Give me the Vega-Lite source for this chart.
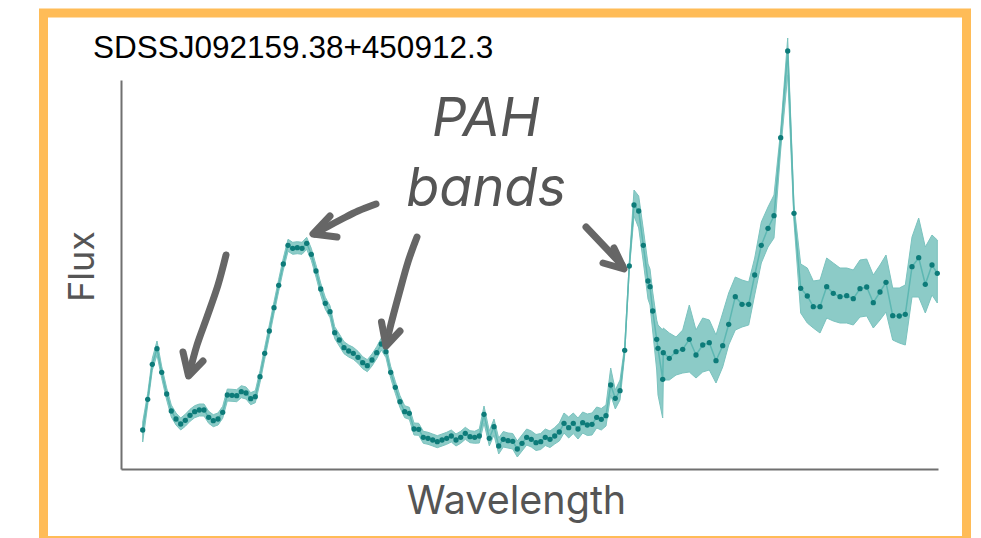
{
  "$schema": "https://vega.github.io/schema/vega-lite/v6.json",
  "width": 923,
  "height": 527.5,
  "autosize": {"type": "none"},
  "padding": {"left": 43.5, "top": 13, "right": 14.5, "bottom": 0},
  "background": "white",
  "config": {"view": {"stroke": "#FFBC57", "strokeWidth": 9, "fill": "white"}},
  "title": {
    "text": "SDSSJ092159.38+450912.3",
    "anchor": "start", "frame": "group", "orient": "top", "offset": 0,
    "dx": 49.5, "dy": 76, "baseline": "alphabetic",
    "font": "Liberation Sans", "fontSize": 31.5, "fontWeight": "normal", "color": "#000000"
  },
  "datasets": {
    "spec": [
      {"wl":142.7,"flux":39,"lo":27,"hi":47},
      {"wl":147.7,"flux":69.7,"lo":63.7,"hi":75.7},
      {"wl":152.3,"flux":104.7,"lo":98.7,"hi":110.7},
      {"wl":157,"flux":120.3,"lo":114,"hi":128},
      {"wl":161.7,"flux":96.7,"lo":90.7,"hi":102.7},
      {"wl":166.7,"flux":75,"lo":69,"hi":81},
      {"wl":171.3,"flux":58,"lo":52,"hi":64},
      {"wl":176,"flux":50,"lo":44,"hi":56},
      {"wl":180.7,"flux":45,"lo":39,"hi":51},
      {"wl":185.3,"flux":48.7,"lo":42.7,"hi":54.7},
      {"wl":190,"flux":53.7,"lo":47.7,"hi":59.7},
      {"wl":194.7,"flux":57.3,"lo":51.3,"hi":63.3},
      {"wl":199.3,"flux":59,"lo":53,"hi":65},
      {"wl":204,"flux":59,"lo":53,"hi":65},
      {"wl":208.7,"flux":51.7,"lo":45.7,"hi":57.7},
      {"wl":213.3,"flux":48.3,"lo":42.3,"hi":54.3},
      {"wl":218,"flux":50,"lo":44,"hi":56},
      {"wl":222.7,"flux":56.7,"lo":50.7,"hi":62.7},
      {"wl":227.3,"flux":74,"lo":68,"hi":80},
      {"wl":232,"flux":73.7,"lo":67.7,"hi":79.7},
      {"wl":236.7,"flux":73.3,"lo":67.3,"hi":79.3},
      {"wl":241.3,"flux":77.3,"lo":71.3,"hi":83.3},
      {"wl":246,"flux":76,"lo":70,"hi":82},
      {"wl":250.7,"flux":70.3,"lo":64.3,"hi":76.3},
      {"wl":255.3,"flux":72.3,"lo":66.3,"hi":78.3},
      {"wl":260,"flux":92.3,"lo":86.3,"hi":98.3},
      {"wl":264.7,"flux":115.7,"lo":109.7,"hi":121.7},
      {"wl":269.3,"flux":138,"lo":132,"hi":144},
      {"wl":274,"flux":161.3,"lo":155.3,"hi":167.3},
      {"wl":278.7,"flux":183.7,"lo":177.7,"hi":189.7},
      {"wl":283.3,"flux":205,"lo":199,"hi":211},
      {"wl":288,"flux":223.7,"lo":217.7,"hi":229.7},
      {"wl":292.7,"flux":220.7,"lo":214.7,"hi":226.7},
      {"wl":297.3,"flux":221.3,"lo":215.3,"hi":227.3},
      {"wl":302,"flux":220.7,"lo":214.7,"hi":226.7},
      {"wl":306.7,"flux":225.7,"lo":219.7,"hi":231.7},
      {"wl":311.3,"flux":214.7,"lo":208.7,"hi":220.7},
      {"wl":316,"flux":198,"lo":192,"hi":204},
      {"wl":320.7,"flux":180,"lo":174,"hi":186},
      {"wl":325.3,"flux":165.7,"lo":159.7,"hi":171.7},
      {"wl":330,"flux":157.3,"lo":151.3,"hi":163.3},
      {"wl":334.7,"flux":136.3,"lo":130.3,"hi":142.3},
      {"wl":339.3,"flux":129,"lo":123,"hi":135},
      {"wl":344,"flux":121.3,"lo":115.3,"hi":127.3},
      {"wl":348.7,"flux":118,"lo":112,"hi":124},
      {"wl":353.3,"flux":115.7,"lo":109.7,"hi":121.7},
      {"wl":358,"flux":111.7,"lo":105.7,"hi":117.7},
      {"wl":362.7,"flux":106.3,"lo":100.3,"hi":112.3},
      {"wl":367.3,"flux":103.3,"lo":97.3,"hi":109.3},
      {"wl":372,"flux":109,"lo":103,"hi":115},
      {"wl":376.7,"flux":116.3,"lo":110.3,"hi":122.3},
      {"wl":381.3,"flux":125,"lo":119,"hi":131},
      {"wl":386,"flux":117.3,"lo":111.3,"hi":123.3},
      {"wl":390.7,"flux":96.7,"lo":90.7,"hi":102.7},
      {"wl":395.3,"flux":81.7,"lo":75.7,"hi":87.7},
      {"wl":400,"flux":67.3,"lo":61.3,"hi":73.3},
      {"wl":404.7,"flux":57.3,"lo":51.3,"hi":63.3},
      {"wl":409.3,"flux":55.7,"lo":49.7,"hi":61.7},
      {"wl":414,"flux":40,"lo":34,"hi":46},
      {"wl":418.7,"flux":39.7,"lo":33.7,"hi":45.7},
      {"wl":423.3,"flux":31.7,"lo":25.7,"hi":37.7},
      {"wl":428,"flux":30.7,"lo":24.7,"hi":36.7},
      {"wl":432.7,"flux":29,"lo":23,"hi":35},
      {"wl":437.3,"flux":27.3,"lo":21.3,"hi":33.3},
      {"wl":442,"flux":29,"lo":23,"hi":35},
      {"wl":446.7,"flux":30.7,"lo":24.7,"hi":36.7},
      {"wl":451.3,"flux":33,"lo":27,"hi":39},
      {"wl":456,"flux":29,"lo":23,"hi":35},
      {"wl":460.7,"flux":31.7,"lo":25.7,"hi":37.7},
      {"wl":465.3,"flux":35.7,"lo":29.7,"hi":41.7},
      {"wl":470,"flux":32.3,"lo":26.3,"hi":38.3},
      {"wl":474.7,"flux":31.7,"lo":25.7,"hi":37.7},
      {"wl":479.3,"flux":33,"lo":26,"hi":40},
      {"wl":484,"flux":54.7,"lo":46,"hi":63},
      {"wl":489.3,"flux":30.7,"lo":23,"hi":38},
      {"wl":494,"flux":42.3,"lo":34,"hi":50},
      {"wl":498.7,"flux":23,"lo":15,"hi":31},
      {"wl":503.3,"flux":29.7,"lo":22,"hi":37.5},
      {"wl":508,"flux":28.3,"lo":21,"hi":36},
      {"wl":512.7,"flux":27.7,"lo":20,"hi":35.5},
      {"wl":517.3,"flux":20,"lo":12,"hi":28},
      {"wl":522,"flux":25.7,"lo":18,"hi":34},
      {"wl":526.7,"flux":31.7,"lo":24,"hi":40},
      {"wl":531.3,"flux":29.7,"lo":22,"hi":38},
      {"wl":536,"flux":26.3,"lo":18.5,"hi":34.5},
      {"wl":540.7,"flux":27.3,"lo":19.5,"hi":35.5},
      {"wl":545.3,"flux":31.7,"lo":23.5,"hi":40},
      {"wl":550,"flux":29.7,"lo":21.5,"hi":38},
      {"wl":554.7,"flux":33,"lo":25,"hi":41.5},
      {"wl":559.3,"flux":37,"lo":28,"hi":46},
      {"wl":564,"flux":45.7,"lo":36,"hi":56},
      {"wl":568.7,"flux":41.3,"lo":31,"hi":52},
      {"wl":573.3,"flux":45.7,"lo":35.5,"hi":56},
      {"wl":578,"flux":40,"lo":30,"hi":51},
      {"wl":582.7,"flux":46.3,"lo":36,"hi":57},
      {"wl":587.3,"flux":44,"lo":33.5,"hi":55},
      {"wl":592,"flux":44.7,"lo":34,"hi":56},
      {"wl":596.7,"flux":51.7,"lo":41,"hi":62},
      {"wl":601.3,"flux":49.7,"lo":39,"hi":60.5},
      {"wl":606,"flux":53.3,"lo":43,"hi":64},
      {"wl":610.7,"flux":84,"lo":74,"hi":101},
      {"wl":615.3,"flux":70.7,"lo":60,"hi":79},
      {"wl":620,"flux":78.3,"lo":69,"hi":89},
      {"wl":624.7,"flux":118.7,"lo":114,"hi":123},
      {"wl":629.3,"flux":203,"lo":199,"hi":207},
      {"wl":634,"flux":264,"lo":253,"hi":279},
      {"wl":638.7,"flux":258,"lo":241,"hi":273},
      {"wl":643.3,"flux":223.7,"lo":207,"hi":240},
      {"wl":648,"flux":188,"lo":170,"hi":205},
      {"wl":650,"flux":182.3,"lo":164,"hi":200},
      {"wl":652.7,"flux":158,"lo":138,"hi":177},
      {"wl":656.7,"flux":129.7,"lo":99,"hi":149},
      {"wl":658,"flux":120.7,"lo":74,"hi":144},
      {"wl":662.7,"flux":89.7,"lo":51,"hi":139},
      {"wl":663.3,"flux":116.3,"lo":89,"hi":141},
      {"wl":669.3,"flux":110.7,"lo":89,"hi":136},
      {"wl":676,"flux":117.3,"lo":94,"hi":132},
      {"wl":682.7,"flux":119.7,"lo":96,"hi":139},
      {"wl":689.3,"flux":129.7,"lo":97,"hi":164},
      {"wl":696,"flux":114,"lo":91,"hi":139},
      {"wl":702.7,"flux":124,"lo":97,"hi":151},
      {"wl":709.3,"flux":126.3,"lo":99,"hi":149},
      {"wl":716,"flux":108.3,"lo":86,"hi":134},
      {"wl":722.7,"flux":123.3,"lo":102,"hi":156},
      {"wl":728.7,"flux":144.7,"lo":124,"hi":176},
      {"wl":735.3,"flux":172.3,"lo":139,"hi":192},
      {"wl":742,"flux":164.7,"lo":142,"hi":189},
      {"wl":748.7,"flux":164.7,"lo":144,"hi":187},
      {"wl":754.7,"flux":194,"lo":174,"hi":211},
      {"wl":761.3,"flux":223.7,"lo":206,"hi":247},
      {"wl":768,"flux":240.7,"lo":222,"hi":262},
      {"wl":774,"flux":253.3,"lo":231,"hi":274},
      {"wl":780.7,"flux":331.3,"lo":319,"hi":339},
      {"wl":787.7,"flux":418,"lo":394,"hi":431},
      {"wl":794,"flux":255.7,"lo":247,"hi":264},
      {"wl":800.7,"flux":180.7,"lo":156,"hi":205},
      {"wl":807.3,"flux":173,"lo":146,"hi":201},
      {"wl":813.3,"flux":162.3,"lo":141,"hi":188},
      {"wl":820,"flux":162.3,"lo":136,"hi":189},
      {"wl":826.7,"flux":182.3,"lo":151,"hi":211},
      {"wl":833.3,"flux":175.7,"lo":148,"hi":206},
      {"wl":840,"flux":172.3,"lo":146,"hi":201},
      {"wl":846.7,"flux":173.3,"lo":146,"hi":201},
      {"wl":853.3,"flux":170.3,"lo":144,"hi":199},
      {"wl":860,"flux":180.3,"lo":152,"hi":209},
      {"wl":866.7,"flux":182,"lo":153,"hi":210},
      {"wl":873.3,"flux":166.3,"lo":141,"hi":194},
      {"wl":880,"flux":177,"lo":149,"hi":204},
      {"wl":886,"flux":186.7,"lo":157,"hi":214},
      {"wl":892.7,"flux":153.3,"lo":129,"hi":181},
      {"wl":899.3,"flux":153,"lo":126,"hi":181},
      {"wl":905.3,"flux":154.7,"lo":124,"hi":184},
      {"wl":912,"flux":202.3,"lo":172,"hi":232},
      {"wl":918.7,"flux":211.3,"lo":172,"hi":251},
      {"wl":925.3,"flux":184.7,"lo":156,"hi":222},
      {"wl":932,"flux":204,"lo":174,"hi":234},
      {"wl":937.3,"flux":195.7,"lo":166,"hi":229}
    ],
    "shafts": [
      {"id":"a1","o":0,"wl":226,"flux":214},
      {"id":"a1","o":1,"wl":218,"flux":184},
      {"id":"a1","o":2,"wl":207,"flux":152},
      {"id":"a1","o":3,"wl":197,"flux":124},
      {"id":"a1","o":4,"wl":189.5,"flux":96},
      {"id":"a2","o":0,"wl":376,"flux":265},
      {"id":"a2","o":1,"wl":358,"flux":258},
      {"id":"a2","o":2,"wl":342,"flux":250},
      {"id":"a2","o":3,"wl":327,"flux":242},
      {"id":"a2","o":4,"wl":315,"flux":235},
      {"id":"a3","o":0,"wl":417,"flux":232},
      {"id":"a3","o":1,"wl":408,"flux":207},
      {"id":"a3","o":2,"wl":399,"flux":175},
      {"id":"a3","o":3,"wl":391,"flux":145},
      {"id":"a3","o":4,"wl":386,"flux":124},
      {"id":"a4","o":0,"wl":586,"flux":242},
      {"id":"a4","o":1,"wl":604,"flux":223},
      {"id":"a4","o":2,"wl":622,"flux":204}
    ],
    "heads": [
      {"id":"h1","o":0,"wl":183,"flux":117},
      {"id":"h1","o":1,"wl":188.5,"flux":93},
      {"id":"h1","o":2,"wl":203,"flux":108},
      {"id":"h2","o":0,"wl":330,"flux":253},
      {"id":"h2","o":1,"wl":313,"flux":235},
      {"id":"h2","o":2,"wl":337,"flux":232},
      {"id":"h3","o":0,"wl":381.5,"flux":147},
      {"id":"h3","o":1,"wl":386,"flux":123},
      {"id":"h3","o":2,"wl":400,"flux":138},
      {"id":"h4","o":0,"wl":614,"flux":221},
      {"id":"h4","o":1,"wl":624,"flux":200},
      {"id":"h4","o":2,"wl":603,"flux":206}
    ],
    "labels": [
      {"wl":486,"flux":333,"t":"PAH"},
      {"wl":486,"flux":263,"t":"bands"}
    ]
  },
  "layer": [
    {
      "data": {"name": "spec"},
      "mark": {"type": "area", "color": "#86C9C5", "opacity": 0.95, "stroke": "#74C0BB", "strokeWidth": 1},
      "encoding": {
        "x": {
          "field": "wl", "type": "quantitative",
          "scale": {"domain": [121, 938], "range": [77.5, 894.5], "nice": false, "zero": false},
          "axis": {
            "title": "Wavelength", "labels": false, "ticks": false, "grid": false,
            "domainColor": "#707070", "domainWidth": 2, "offset": -71.5,
            "titleFont": "Inter", "titleFontSize": 39.5, "titleFontWeight": "normal", "titleColor": "#555555",
            "titleX": 472.5, "titleY": 44, "titleBaseline": "alphabetic", "titleAlign": "center"
          }
        },
        "y": {
          "field": "lo", "type": "quantitative",
          "scale": {"domain": [0, 389], "range": [456, 67], "nice": false, "zero": false},
          "axis": {
            "title": "Flux", "labels": false, "ticks": false, "grid": false,
            "domainColor": "#707070", "domainWidth": 2, "offset": -77.5,
            "titleFont": "Inter", "titleFontSize": 36, "titleFontWeight": "normal", "titleColor": "#555555",
            "titleX": -28, "titleY": 253, "titleAngle": -90, "titleBaseline": "alphabetic", "titleAlign": "center"
          }
        },
        "y2": {"field": "hi"}
      }
    },
    {
      "data": {"name": "spec"},
      "mark": {"type": "line", "color": "#5DB7B2", "strokeWidth": 1.5},
      "encoding": {
        "x": {"field": "wl", "type": "quantitative"},
        "y": {"field": "flux", "type": "quantitative"}
      }
    },
    {
      "data": {"name": "spec"},
      "mark": {"type": "point", "filled": true, "size": 28, "color": "#0D7B79", "opacity": 1},
      "encoding": {
        "x": {"field": "wl", "type": "quantitative"},
        "y": {"field": "flux", "type": "quantitative"}
      }
    },
    {
      "data": {"name": "shafts"},
      "mark": {"type": "line", "color": "#666666", "strokeWidth": 7, "strokeCap": "round", "strokeJoin": "round", "interpolate": "cardinal"},
      "encoding": {
        "x": {"field": "wl", "type": "quantitative"},
        "y": {"field": "flux", "type": "quantitative"},
        "detail": {"field": "id"},
        "order": {"field": "o", "type": "quantitative"}
      }
    },
    {
      "data": {"name": "heads"},
      "mark": {"type": "line", "color": "#666666", "strokeWidth": 7, "strokeCap": "round", "strokeJoin": "round"},
      "encoding": {
        "x": {"field": "wl", "type": "quantitative"},
        "y": {"field": "flux", "type": "quantitative"},
        "detail": {"field": "id"},
        "order": {"field": "o", "type": "quantitative"}
      }
    },
    {
      "data": {"name": "labels"},
      "mark": {"type": "text", "font": "Inter", "fontSize": 54, "fontStyle": "italic", "color": "#555555", "align": "center", "baseline": "alphabetic"},
      "encoding": {
        "x": {"field": "wl", "type": "quantitative"},
        "y": {"field": "flux", "type": "quantitative"},
        "text": {"field": "t"}
      }
    }
  ]
}
